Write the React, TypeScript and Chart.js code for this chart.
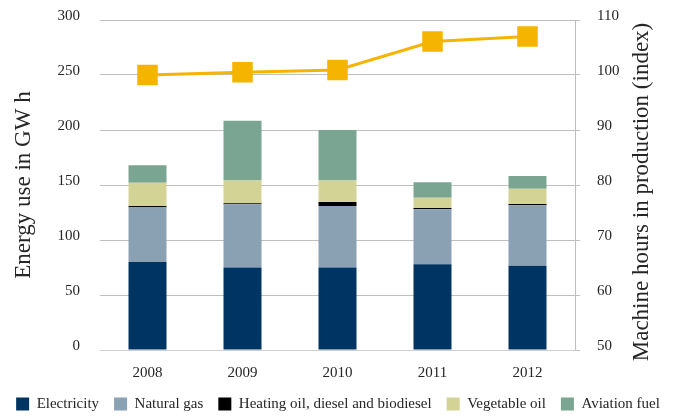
import React, { useEffect, useRef } from "react";
import { Chart, registerables } from "chart.js";

Chart.register(...registerables);

const years = ["2008", "2009", "2010", "2011", "2012"];
const electricity = [80, 75, 75, 78, 76.5];
const naturalGas = [50, 57.5, 56, 50, 55];
const heatingOil = [1, 1, 3.5, 1, 1.2];
const vegetableOil = [21, 20.5, 19.5, 9.5, 14];
const aviationFuel = [16, 54.5, 46, 14, 11.5];
const machineHours = [100.0, 100.5, 100.9, 106.1, 107.0];

const seriesNames = [
  "Electricity",
  "Natural gas",
  "Heating oil, diesel and biodiesel",
  "Vegetable oil",
  "Aviation fuel",
];
const seriesColors = ["#003462", "#8aa0b3", "#000000", "#d3d395", "#7aa593"];
const lineName = "Machine hours";
const lineColor = "#f5b400";
const leftTitle = "Energy use in GW h";
const rightTitle = "Machine hours in production (index)";

const FONT = '"Liberation Serif", "Times New Roman", serif';
const TEXT = "#262626";
const PLOT_BOTTOM = 350;
const LEGEND_CENTER = 404;

const helperPlugin = {
  id: "helper",
  afterLayout(chart: any) {
    const lg = chart.legend;
    if (lg) {
      const h = lg.bottom - lg.top;
      const pad = lg.options.labels.padding;
      lg.top = LEGEND_CENTER - 7.5 - pad;
      lg.bottom = lg.top + h;
    }
    const x = chart.scales.x;
    if (x) x.bottom = chart.height;
  },
  afterDraw(chart: any) {
    const { ctx, chartArea } = chart;
    const s = chart.scales.y1;
    ctx.save();
    ctx.font = `23px ${FONT}`;
    ctx.fillStyle = TEXT;
    ctx.translate(s.right - 34, (chartArea.top + chartArea.bottom) / 2 + 7);
    ctx.rotate(-Math.PI / 2);
    ctx.textAlign = "center";
    ctx.textBaseline = "middle";
    ctx.fillText(rightTitle, 0, 0);
    ctx.restore();
  },
};

export default function App() {
  const ref = useRef<HTMLCanvasElement>(null);

  useEffect(() => {
    if (!ref.current) return;
    const barData = [electricity, naturalGas, heatingOil, vegetableOil, aviationFuel];
    const datasets: any[] = barData.map((d, i) => ({
      type: "bar",
      label: seriesNames[i],
      data: d,
      backgroundColor: seriesColors[i],
      borderWidth: 0,
      yAxisID: "y",
      barPercentage: 0.4,
      categoryPercentage: 1,
      order: 2,
    }));
    datasets.push({
      type: "line",
      label: lineName,
      data: machineHours,
      borderColor: lineColor,
      backgroundColor: lineColor,
      borderWidth: 3,
      pointStyle: "rect",
      pointRadius: 14.5,
      pointHoverRadius: 14.5,
      pointBorderWidth: 0,
      yAxisID: "y1",
      order: 0,
    });

    const chart = new Chart(ref.current, {
      type: "bar",
      data: { labels: years, datasets },
      plugins: [helperPlugin],
      options: {
        animation: false,
        responsive: true,
        maintainAspectRatio: false,
        font: { family: FONT },
        layout: { padding: { top: 20, left: 0, right: 0, bottom: 0 } },
        plugins: {
          tooltip: { enabled: false },
          legend: {
            position: "bottom",
            labels: {
              filter: (item: any) => item.datasetIndex < 5,
              boxWidth: 13,
              boxHeight: 13,
              padding: 15,
              color: TEXT,
              font: { family: FONT, size: 15 },
            },
          },
        },
        scales: {
          x: {
            stacked: true,
            grid: { display: false },
            border: { display: true, color: "#d0d0d0" },
            ticks: { color: TEXT, font: { family: FONT, size: 15 }, padding: 6 },
            afterFit: (s: any) => {
              const lh = s.chart.legend ? s.chart.legend.height : 55;
              s.height = Math.max(1, s.chart.height - PLOT_BOTTOM - lh);
            },
          },
          y: {
            stacked: true,
            position: "left",
            min: 0,
            max: 300,
            ticks: {
              stepSize: 50,
              color: TEXT,
              font: { family: FONT, size: 15 },
              padding: 0,
              labelOffset: -4,
            },
            grid: {
              color: "#bfbfbf",
              drawTicks: true,
              tickLength: 20,
              tickColor: "rgba(0,0,0,0)",
              lineWidth: 1,
            },
            border: { display: false },
            title: {
              display: true,
              text: leftTitle,
              color: TEXT,
              font: { family: FONT, size: 23 },
              padding: { top: 10, bottom: 0 },
            },
            afterFit: (s: any) => {
              s.width = 100;
            },
          },
          y1: {
            position: "right",
            min: 50,
            max: 110,
            ticks: {
              stepSize: 10,
              color: TEXT,
              font: { family: FONT, size: 15 },
              padding: 0,
              labelOffset: -4,
            },
            grid: {
              drawOnChartArea: false,
              drawTicks: true,
              tickLength: 22,
              tickColor: "#bfbfbf",
              tickBorderDash: [4, 60],
            },
            border: { display: true, color: "#bfbfbf" },
            afterFit: (s: any) => {
              s.width = 101;
            },
          },
        },
      },
    } as any);
    return () => chart.destroy();
  }, []);

  return (
    <div style={{ position: "absolute", left: 0, top: 0, width: 676, height: 416 }}>
      <canvas ref={ref} />
    </div>
  );
}
